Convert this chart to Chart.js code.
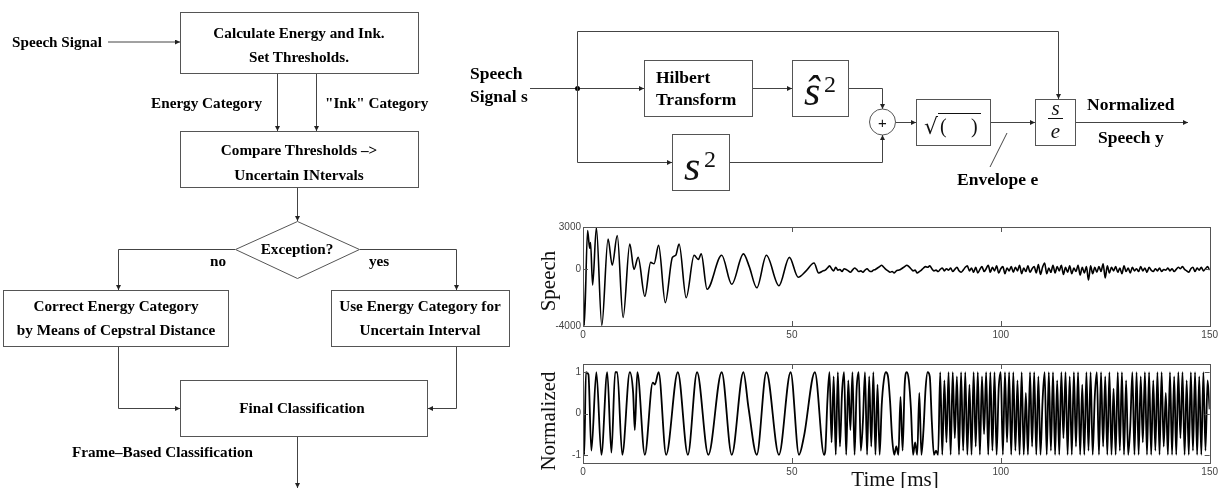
<!DOCTYPE html>
<html>
<head>
<meta charset="utf-8">
<script src="https://cdn.jsdelivr.net/npm/chart.js@4"></script>
<style>
  body { margin: 0; background: #fff; }
  #page { position: relative; width: 1221px; height: 488px; overflow: hidden; }
  canvas { position: absolute; }
  svg { position: absolute; left: 0; top: 0; }
  .fc { font-family: 'Liberation Serif', 'Times New Roman', serif; font-weight: bold; font-size: 15.2px; fill: #000; }
  .bd { font-size: 17.5px; }
  .ln { stroke: #444; stroke-width: 1; fill: none; }
  .box { stroke: #555; stroke-width: 1; fill: none; }
  .math { font-family: 'Liberation Serif', serif; font-style: italic; fill: #111; }
  .axt { font-family: 'Liberation Serif', 'Times New Roman', serif; font-size: 21px; fill: #111; }
</style>
</head>
<body>
<div id="page">
  <canvas id="speech" width="691" height="131" style="left:530px;top:215px"></canvas>
  <canvas id="norm" width="691" height="131" style="left:530px;top:352px"></canvas>
  <svg width="1221" height="488" viewBox="0 0 1221 488">
    <defs>
      <marker id="ah" viewBox="0 0 10 10" refX="10" refY="5" markerWidth="9" markerHeight="5" markerUnits="userSpaceOnUse" orient="auto">
        <path d="M0,0 L10,5 L0,10 z" fill="#222"/>
      </marker>
    </defs>

    <!-- flowchart -->
    <text class="fc" x="12" y="47">Speech Signal</text>
    <line class="ln" x1="108" y1="42" x2="180" y2="42" marker-end="url(#ah)"/>
    <rect class="box" x="180.5" y="12.5" width="238" height="61"/>
    <text class="fc" x="299" y="38" text-anchor="middle">Calculate Energy and Ink.</text>
    <text class="fc" x="299" y="62" text-anchor="middle">Set Thresholds.</text>
    <line class="ln" x1="277.5" y1="74" x2="277.5" y2="131" marker-end="url(#ah)"/>
    <line class="ln" x1="316.5" y1="74" x2="316.5" y2="131" marker-end="url(#ah)"/>
    <text class="fc" x="262" y="108" text-anchor="end">Energy Category</text>
    <text class="fc" x="325" y="108">"Ink" Category</text>
    <rect class="box" x="180.5" y="131.5" width="238" height="56"/>
    <text class="fc" x="299" y="155" text-anchor="middle">Compare Thresholds –&gt;</text>
    <text class="fc" x="299" y="180" text-anchor="middle">Uncertain INtervals</text>
    <line class="ln" x1="297.5" y1="188" x2="297.5" y2="221" marker-end="url(#ah)"/>
    <polygon class="box" points="297.5,221.5 359.5,249.5 297.5,278.5 235.5,249.5"/>
    <text class="fc" x="297" y="254" text-anchor="middle">Exception?</text>
    <polyline class="ln" points="235,249.5 118.5,249.5 118.5,290" marker-end="url(#ah)"/>
    <polyline class="ln" points="360,249.5 456.5,249.5 456.5,290" marker-end="url(#ah)"/>
    <text class="fc" x="210" y="266">no</text>
    <text class="fc" x="369" y="266">yes</text>
    <rect class="box" x="3.5" y="290.5" width="225" height="56"/>
    <text class="fc" x="116" y="311" text-anchor="middle">Correct Energy Category</text>
    <text class="fc" x="116" y="335" text-anchor="middle">by Means of Cepstral Distance</text>
    <rect class="box" x="331.5" y="290.5" width="178" height="56"/>
    <text class="fc" x="420" y="311" text-anchor="middle">Use Energy Category for</text>
    <text class="fc" x="420" y="335" text-anchor="middle">Uncertain Interval</text>
    <polyline class="ln" points="118.5,347 118.5,408.5 180,408.5" marker-end="url(#ah)"/>
    <polyline class="ln" points="456.5,347 456.5,408.5 428,408.5" marker-end="url(#ah)"/>
    <rect class="box" x="180.5" y="380.5" width="247" height="56"/>
    <text class="fc" x="302" y="413" text-anchor="middle">Final Classification</text>
    <line class="ln" x1="297.5" y1="437" x2="297.5" y2="488" marker-end="url(#ah)"/>
    <text class="fc" x="72" y="457">Frame–Based Classification</text>

    <!-- block diagram -->
    <text class="fc bd" x="470" y="79">Speech</text>
    <text class="fc bd" x="470" y="102">Signal s</text>
    <line class="ln" x1="530" y1="88.5" x2="644" y2="88.5" marker-end="url(#ah)"/>
    <circle cx="577.5" cy="88.5" r="2.5" fill="#000"/>
    <polyline class="ln" points="577.5,88 577.5,31.5 1058.5,31.5 1058.5,99" marker-end="url(#ah)"/>
    <polyline class="ln" points="577.5,88 577.5,162.5 672,162.5" marker-end="url(#ah)"/>
    <rect class="box" x="644.5" y="60.5" width="108" height="56"/>
    <text class="fc bd" x="656" y="83">Hilbert</text>
    <text class="fc bd" x="656" y="105">Transform</text>
    <line class="ln" x1="753" y1="88.5" x2="792" y2="88.5" marker-end="url(#ah)"/>
    <rect class="box" x="792.5" y="60.5" width="56" height="56"/>
    <text class="math" x="804" y="105" style="font-size:42px">ŝ</text>
    <text x="824" y="92" style="font-family:'Liberation Serif',serif;font-size:24px;fill:#111">2</text>
    <rect class="box" x="672.5" y="134.5" width="57" height="56"/>
    <text class="math" x="684" y="180" style="font-size:42px">s</text>
    <text x="704" y="167" style="font-family:'Liberation Serif',serif;font-size:24px;fill:#111">2</text>
    <polyline class="ln" points="849,88.5 882.5,88.5 882.5,109" marker-end="url(#ah)"/>
    <circle class="box" cx="882.5" cy="122" r="13"/>
    <text x="882.5" y="127.5" text-anchor="middle" style="font-family:'Liberation Sans',sans-serif;font-size:15px;fill:#111">+</text>
    <polyline class="ln" points="730,162.5 882.5,162.5 882.5,135" marker-end="url(#ah)"/>
    <line class="ln" x1="896" y1="122.5" x2="916" y2="122.5" marker-end="url(#ah)"/>
    <rect class="box" x="916.5" y="99.5" width="74" height="46"/>
    <text x="924" y="134" style="font-family:'DejaVu Serif',serif;font-size:22px;fill:#111">√</text>
    <line class="ln" x1="938" y1="113.5" x2="981" y2="113.5" style="stroke:#111"/>
    <text x="940" y="133" style="font-family:'Liberation Serif',serif;font-size:20px;fill:#111">(</text>
    <text x="971" y="133" style="font-family:'Liberation Serif',serif;font-size:20px;fill:#111">)</text>
    <line class="ln" x1="991" y1="122.5" x2="1035" y2="122.5" marker-end="url(#ah)"/>
    <rect class="box" x="1035.5" y="99.5" width="40" height="46"/>
    <text class="math" x="1055.5" y="115" text-anchor="middle" style="font-size:21px">s</text>
    <line class="ln" x1="1048" y1="118.5" x2="1063" y2="118.5" style="stroke:#111"/>
    <text class="math" x="1055.5" y="138" text-anchor="middle" style="font-size:21px">e</text>
    <line class="ln" x1="1076" y1="122.5" x2="1188" y2="122.5" marker-end="url(#ah)"/>
    <text class="fc bd" x="1087" y="110">Normalized</text>
    <text class="fc bd" x="1098" y="143">Speech y</text>
    <line class="ln" x1="990" y1="167" x2="1007" y2="133"/>
    <text class="fc bd" x="957" y="185">Envelope e</text>

    <!-- axis titles -->
    <text class="axt" transform="translate(555,281) rotate(-90)" text-anchor="middle">Speech</text>
    <text class="axt" transform="translate(555,421) rotate(-90)" text-anchor="middle">Normalized</text>
    <text class="axt" x="895" y="486" text-anchor="middle">Time [ms]</text>
  </svg>
</div>
<script>
const xTickValues = [0, 50, 100, 150];
const speechTickValues = [-4000, 0, 3000];
const normTickValues = [-1, 0, 1];

// voiced part: turning points (ms, value)
const speechOscTime = [0, 0.3, 1.1, 1.6, 1.8, 2.3, 3.2, 4.5, 6.0, 7.0, 8.2, 9.6, 11.2, 12.2, 13.2, 14.8, 16.2, 17.0, 18.1, 19.7,
  21.4, 22.2, 23.0, 24.7, 26.6, 27.6, 28.3, 29.7, 33.2, 35.6, 38.4, 39.8, 41.6, 43.9, 46.9, 49.4, 51.5, 53.4, 55.3, 56.4, 57.5];
const speechOscValue = [0, -3950, 2750, 1500, 1900, -1100, 2950, -3950, 2150, 300, 2400, -3400, 1800, 0, 850, -1900, 500, 400, 1700, -2350,
  850, 1000, 1800, -2000, 1000, 700, 1100, -1400, 1000, -1050, 1100, 200, -1300, 1000, -1150, 850, -550, -100, 450, -250, -100];

const normOscTime = [0, 0.3, 0.7, 1.3, 2.0, 3.2, 4.4, 5.8, 6.8, 7.7, 8.2, 9.4, 11.2, 12.0, 12.4, 13.0, 14.8, 16.7, 17.2, 18.1,
  19.9, 22.7, 25.1, 27.3, 30.0, 33.2, 35.6, 38.4, 39.6, 41.6, 43.9, 46.9, 49.7, 51.7, 52.9, 55.5, 57.7];
const normOscValue = [0, -1, 1, 0.95, -0.9, 1, -1, 1, -0.95, 1, 1, -1, 1, 0.5, -0.4, 1, -1, 0.75, 0.7, 1,
  -1, 1, -1, 1, -1, 1, -1, 1, 0.15, -1, 1, -1, 1, -1, -0.55, 1, -1];

// unvoiced part: samples every 0.5 ms from 58 ms
const noiseStartMs = 58;
const noiseStepMs = 0.5;
const speechNoise = [
  -50, 100, 250, 50, -100, 150, -50, 0, -150, 50,
  0, -100, -200, -50, 100, 0, -150, -100, -200, -50,
  50, -100, -150, -50, 0, 100, 200, 300, 150, 0,
  -100, -200, -150, -250, -100, -50, 0, 100, 200, 300,
  200, 50, -100, -50, -250, -150, -50, 100, 200, 150,
  250, 50, -100, -50, -150, 0, 100, -100, 50, -50,
  100, -150, 0, 150, -100, -200, -50, 150, 250, -100,
  100, -200, 150, -250, 0, 200, -150, 50, 300, -200,
  150, -100, 250, -250, 50, 200, -300, 100, -100, 200,
  -200, 150, -100, 300, -300, 100, -150, 250, -200, 50,
  200, -250, 350, -350, 150, 450, -300, 100, -200, 300,
  -250, 200, -100, 300, -350, 150, -200, 250, -300, 100,
  -150, 300, -400, 150, -250, 200, -750, 250, -300, 150,
  -200, 200, -150, 400, -600, 250, -250, 150, -100, 200,
  -200, 100, -300, 250, -150, 100, -250, 150, -100, 50,
  -150, 200, -100, 100, -200, 150, -50, -150, 50, -100,
  100, -150, 0, -50, 100, -100, 50, -150, 0, 150,
  50, 200, 0, -100, -200, 50, 150, -150, 100, -50,
  150, -100, 50, 200, -50
];
const normNoise = [
  -0.9, 0.3, 1, -0.7, 0.9, -1, 1, -0.8, 0.5, 1,
  -1, 0.8, -0.4, 1, -1, 0.6, 1, -0.9, -0.2, 1,
  -1, 0.9, -0.8, 1, -1, 0.7, -1, 0.2, 0.8, 1,
  0.9, 0.3, -0.6, -1, -0.8, -1, 0.4, -0.9, 0.7, 1,
  0.8, 0.1, -1, -0.7, -1, 0.5, -1, -0.4, 0.6, 1,
  0.9, -0.2, -1, -0.9, -1, 1, -1, 0.8, -0.7, 1,
  -1, 1, -0.6, 0.9, -1, 1, -0.9, 1, -1, 0.7,
  -1, 1, -0.8, 1, -1, 0.9, -0.5, 1, -1, 1,
  -0.9, 1, -1, 0.6, 1, -1, 1, -0.7, 1, -1,
  1, -0.9, 0.8, -1, 1, -1, 0.5, -1, 1, -0.8,
  1, -1, 0.9, -1, 0.3, 1, -1, 1, -0.9, 1,
  -1, 0.8, -1, 1, -0.6, 1, -1, 0.9, -1, 1,
  -0.8, 1, -1, 0.7, -1, 1, -0.9, 1, -1, 0.4,
  1, -1, 1, -0.8, 0.9, -1, 1, -1, 0.6, -1,
  1, -0.9, 1, -1, 0.8, -1, -0.3, 1, -1, 1,
  -1, 0.9, -0.7, 1, -1, 1, -1, 0.8, -0.9, 1,
  -1, 1, -0.8, 0.5, -1, 1, -1, 0.9, -1, 1,
  -0.6, 1, -1, 0.8, -1, 1, -0.9, 1, -1, 0.9,
  -1, 1, -0.9, 0.8, 0.1
];

function buildPoints(times, values, noise) {
  const pts = times.map((t, i) => ({ x: t, y: values[i] }));
  noise.forEach((v, i) => pts.push({ x: noiseStartMs + i * noiseStepMs, y: v }));
  return pts;
}

const tickFont = { family: "'Liberation Sans', Arial, sans-serif", size: 10 };

// box round the plot with short inward ticks, matlab style
const framePlugin = {
  id: 'frame',
  afterDatasetsDraw(chart) {
    const { ctx, chartArea: a, scales: { x, y } } = chart;
    ctx.save();
    ctx.strokeStyle = '#555';
    ctx.lineWidth = 1;
    ctx.strokeRect(Math.round(a.left) + 0.5, Math.round(a.top) + 0.5, Math.round(a.right - a.left), Math.round(a.bottom - a.top));
    ctx.beginPath();
    x.ticks.forEach(t => {
      const px = Math.round(x.getPixelForValue(t.value)) + 0.5;
      ctx.moveTo(px, a.top); ctx.lineTo(px, a.top + 5);
      ctx.moveTo(px, a.bottom); ctx.lineTo(px, a.bottom - 5);
    });
    y.ticks.forEach(t => {
      const py = Math.round(y.getPixelForValue(t.value)) + 0.5;
      ctx.moveTo(a.left, py); ctx.lineTo(a.left + 5, py);
      ctx.moveTo(a.right, py); ctx.lineTo(a.right - 5, py);
    });
    ctx.stroke();
    ctx.restore();
  }
};

function makeChart(id, points, yMin, yMax, yTicks, lineWidth) {
  return new Chart(document.getElementById(id), {
    type: 'line',
    data: {
      datasets: [{
        data: points,
        borderColor: '#000',
        borderWidth: lineWidth,
        pointRadius: 0,
        cubicInterpolationMode: 'monotone'
      }]
    },
    options: {
      responsive: false,
      animation: false,
      layout: { padding: { top: 12, right: 11, left: 0, bottom: 0 } },
      plugins: { legend: { display: false }, tooltip: { enabled: false } },
      scales: {
        x: {
          type: 'linear', min: 0, max: 150,
          afterBuildTicks: s => { s.ticks = xTickValues.map(v => ({ value: v })); },
          afterFit: s => { s.height = 20; },
          grid: { display: false, drawTicks: false },
          border: { display: false },
          ticks: { font: tickFont, color: '#444', padding: 3, maxRotation: 0, callback: v => String(v) }
        },
        y: {
          type: 'linear', min: yMin, max: yMax,
          afterBuildTicks: s => { s.ticks = yTicks.map(v => ({ value: v })); },
          afterFit: s => { s.width = 53; },
          grid: { display: false, drawTicks: false },
          border: { display: false },
          ticks: { font: tickFont, color: '#444', padding: 2, callback: v => String(v) }
        }
      }
    },
    plugins: [framePlugin]
  });
}

makeChart('speech', buildPoints(speechOscTime, speechOscValue, speechNoise), -4000, 3000, speechTickValues, 1.6);
makeChart('norm', buildPoints(normOscTime, normOscValue, normNoise), -1.2, 1.2, normTickValues, 1.8);
</script>
</body>
</html>
